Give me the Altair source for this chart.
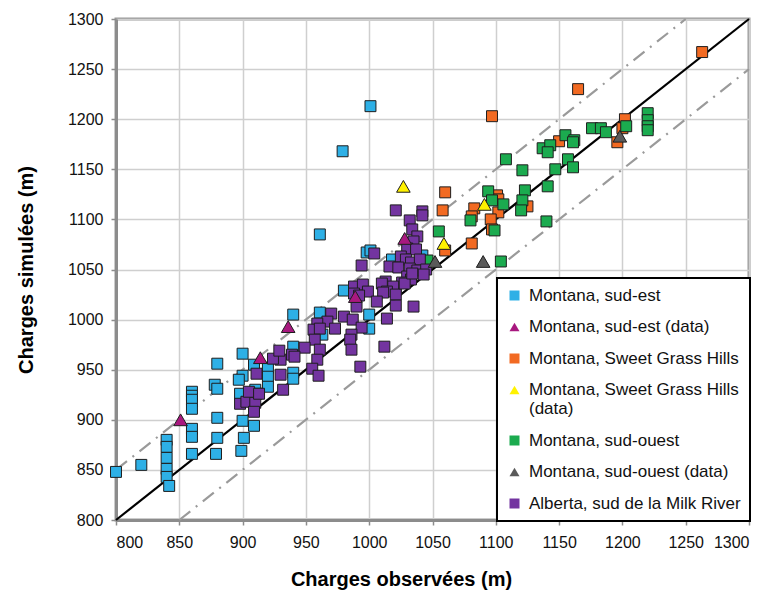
import altair as alt
import pandas as pd

# ---- data -----------------------------------------------------------
series_names = [
    "Montana, sud-est",
    "Montana, sud-est (data)",
    "Montana, Sweet Grass Hills",
    "Montana, Sweet Grass Hills (data)",
    "Montana, sud-ouest",
    "Montana, sud-ouest (data)",
    "Alberta, sud de la Milk River",
]
series_colors = ["#2eb0e6", "#a8187f", "#f26a22", "#fff200", "#1bab4f", "#5a5a5a", "#7334a0"]
series_shapes = ["square", "triangle-up", "square", "triangle-up", "square", "triangle-up", "square"]

se_obs = [800, 820, 840, 840, 840, 840, 840, 842, 860, 860, 860, 860, 860, 860, 860,
          880, 878, 880, 880, 880, 879, 900, 900, 897, 900, 901, 899, 909, 909, 910,
          911, 898, 920, 920, 920, 940, 940, 940, 940, 961, 963, 980, 1000, 1000, 1021,
          1001, 979, 961, 998, 1001, 1018, 1042]
se_sim = [848, 855, 880, 873, 862, 851, 843, 834, 928, 924, 920, 911, 891, 883, 866,
          956, 935, 931, 902, 882, 866, 966, 944, 940, 899, 882, 869, 894, 955, 930,
          926, 926, 952, 943, 933, 947, 941, 973, 1005, 1007, 985, 1029, 1005, 991, 1031,
          1213, 1168, 1085, 1067, 1069, 1060, 1064]

sed_obs = [851, 914, 936, 1028, 989]
sed_sim = [900, 962, 993, 1081, 1023]

sgh_obs = [1263, 1165, 1097, 1202, 1196, 1200, 1150, 1060, 1058, 1083, 1081, 1101, 1102,
           1102, 1096, 1097, 1125, 1081, 1060]
sgh_sim = [1267, 1230, 1203, 1200, 1177, 1191, 1178, 1127, 1109, 1111, 1103, 1124, 1120,
           1107, 1100, 1090, 1113, 1076, 1069]

sghd_obs = [1027, 1091, 1059]
sghd_sim = [1133, 1115, 1076]

so_obs = [1220, 1220, 1220, 1220, 1203, 1176, 1183, 1187, 1155, 1162, 1161, 1137, 1143,
          1141, 1108, 1157, 1161, 1121, 1147, 1141, 1123, 1094, 1097, 1106, 1121, 1120,
          1080, 1099, 1140, 1055, 1046, 1104]
so_sim = [1206, 1199, 1193, 1189, 1193, 1191, 1191, 1187, 1184, 1179, 1177, 1171, 1174,
          1167, 1160, 1160, 1152, 1149, 1150, 1133, 1129, 1128, 1119, 1115, 1119, 1109,
          1099, 1089, 1098, 1088, 1059, 1058]

sod_obs = [1198, 1090, 1052]
sod_sim = [1183, 1058, 1058]

ab_obs = [1021, 1042, 1042, 1032, 1034, 1038, 1035, 1030, 1037, 1004, 1025, 1029, 1033,
          1040, 994, 1016, 1023, 1032, 1038, 1045, 1043, 1030, 1033, 1026, 1013, 1010,
          1019, 1014, 1021, 1011, 988, 995, 999, 988, 992, 1006, 990, 1021, 1035, 1014,
          980, 970, 987, 994, 986, 985, 1012, 993, 967, 959, 956, 961, 973, 986, 957,
          961, 959, 955, 960, 949, 939, 930, 924, 929, 941, 930, 932, 911, 906, 907,
          909, 898, 903, 910, 905, 909, 913, 1028, 1034]
ab_sim = [1109, 1108, 1104, 1099, 1090, 1083, 1078, 1071, 1070, 1066, 1063, 1060, 1057,
          1060, 1054, 1053, 1052, 1051, 1049, 1050, 1045, 1043, 1040, 1037, 1038, 1036,
          1033, 1028, 1025, 1027, 1033, 1035, 1028, 1026, 1024, 1018, 1013, 1014, 1013,
          1001, 1003, 1006, 1000, 992, 985, 980, 973, 953, 998, 996, 990, 991, 991, 970,
          980, 970, 960, 951, 944, 972, 965, 960, 961, 969, 963, 945, 930, 946, 926,
          921, 913, 916, 918, 917, 928, 908, 926, 1036, 1046]

# reference lines: 1:1 and +/- 50 m
ref_names = ["1:1", "+50", "-50"]
ref_x0 = [800, 800, 850]
ref_y0 = [800, 850, 800]
ref_x1 = [1300, 1250, 1300]
ref_y1 = [1300, 1300, 1250]

tick_values = [800, 850, 900, 950, 1000, 1050, 1100, 1150, 1200, 1250, 1300]

# ---- build tables -----------------------------------------------------
groups = [
    (series_names[0], se_obs, se_sim),
    (series_names[2], sgh_obs, sgh_sim),
    (series_names[4], so_obs, so_sim),
    (series_names[6], ab_obs, ab_sim),
    (series_names[1], sed_obs, sed_sim),
    (series_names[3], sghd_obs, sghd_sim),
    (series_names[5], sod_obs, sod_sim),
]
shape_of = dict(zip(series_names, series_shapes))
rows = []
order = 0
for name, xs_, ys_ in groups:
    for xv, yv in zip(xs_, ys_):
        rows.append({"serie": name, "obs": xv, "sim": yv, "ord": order,
                     "forme": shape_of[name]})
        order += 1
pts = pd.DataFrame(rows)

lines = []
for n, a, b, c, d in zip(ref_names, ref_x0, ref_y0, ref_x1, ref_y1):
    lines.append({"ligne": n, "obs": a, "sim": b})
    lines.append({"ligne": n, "obs": c, "sim": d})
lines = pd.DataFrame(lines)

xs = alt.Scale(domain=[800, 1300], nice=False, zero=False)
ys = alt.Scale(domain=[800, 1300], nice=False, zero=False)

x_axis = alt.Axis(values=tick_values, format="d", title="Charges observées (m)", grid=True,
                  titleX=285, titleY=65, titleBaseline="alphabetic", titleAlign="center")
y_axis = alt.Axis(values=tick_values, format="d", title="Charges simulées (m)", grid=True)

diag = alt.Chart(lines[lines.ligne == "1:1"]).mark_line(color="#000000", strokeWidth=2.2).encode(
    x=alt.X("obs:Q", scale=xs, axis=x_axis),
    y=alt.Y("sim:Q", scale=ys, axis=y_axis),
    detail="ligne:N",
)
band = alt.Chart(lines[lines.ligne != "1:1"]).mark_line(
    color="#9a9a9a", strokeWidth=2.2, strokeDash=[14, 7, 2, 7]
).encode(
    x=alt.X("obs:Q", scale=xs),
    y=alt.Y("sim:Q", scale=ys),
    detail="ligne:N",
)

legend_labels = (
    "datum.label == 'Montana, Sweet Grass Hills (data)' ? "
    "['Montana, Sweet Grass Hills', '(data)'] : datum.label"
)


def make_legend():
    return alt.Legend(
        title=None, orient="none", legendX=381, legendY=259,
        labelExpr=legend_labels,
        symbolStrokeColor="#1e1e1e", symbolStrokeWidth=1,
    )


def point_layer(df, size):
    return alt.Chart(df).mark_point(
        filled=True, stroke="#1e1e1e", strokeWidth=1, opacity=1, size=size
    ).encode(
        x=alt.X("obs:Q", scale=xs),
        y=alt.Y("sim:Q", scale=ys),
        color=alt.Color(
            "serie:N",
            scale=alt.Scale(domain=series_names, range=series_colors),
            legend=make_legend(),
        ),
        shape=alt.Shape(
            "serie:N",
            scale=alt.Scale(domain=series_names, range=series_shapes),
            legend=make_legend(),
        ),
        order=alt.Order("ord:Q"),
    )


squares = point_layer(pts[pts.forme == "square"], 120)
triangles = point_layer(pts[pts.forme == "triangle-up"], 185)

chart = (
    alt.layer(band, diag, squares, triangles)
    .properties(
        width=633,
        height=501,
        autosize=alt.AutoSizeParams(type="none"),
        padding={"left": 108, "top": 11, "right": 15, "bottom": 72},
    )
    .configure_view(stroke="#9a9a9a", strokeWidth=3)
    .configure_axis(
        labelFont="Liberation Sans",
        labelFontSize=16,
        labelColor="#111111",
        titleFont="Liberation Sans",
        titleFontSize=20,
        titleFontWeight="bold",
        titleColor="#000000",
        gridColor="#cfcfcf",
        gridWidth=1.5,
        domainColor="#8c8c8c",
        domainWidth=3,
        tickColor="#8c8c8c",
        tickWidth=1.5,
        tickSize=5,
    )
    .configure_axisX(labelPadding=9)
    .configure_axisY(labelPadding=8, titlePadding=31)
    .configure_legend(
        labelFont="Liberation Sans",
        labelFontSize=17,
        labelColor="#111111",
        labelLimit=400,
        symbolSize=100,
        symbolOpacity=1,
        strokeColor="#000000",
        strokeWidth=2,
        fillColor="#ffffff",
        padding=9,
        rowPadding=13.5,
        labelOffset=6,
    )
)

chart.save("out.html", embed_options={"renderer": "svg", "actions": False})
